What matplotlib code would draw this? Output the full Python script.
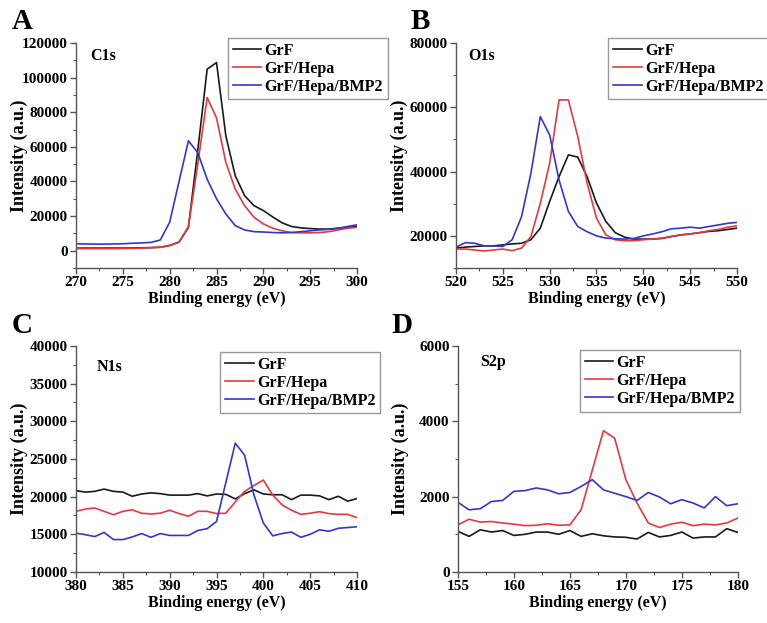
import matplotlib
matplotlib.use("Agg")
import matplotlib.pyplot as plt
from matplotlib.ticker import MultipleLocator
import numpy as np

plt.rcParams['font.family'] = ['Liberation Serif', 'DejaVu Serif']
plt.rcParams['font.weight'] = 'bold'

series_names = ["GrF", "GrF/Hepa", "GrF/Hepa/BMP2"]
colors = ["#1a1a1a", "#e8383d", "#3535d0"]

# Panel A: C1s
c1s_x = list(range(270, 301))
c1s_grf = [1500, 1500, 1500, 1500, 1500, 1500, 1600, 1700, 1800, 2000, 3000, 5000, 13500, 58000,
           104900, 108700, 66200, 43300, 31800, 26000, 23200, 19500, 16100, 14000, 13200, 12800,
           12500, 12500, 13000, 13500, 14000]
c1s_hepa = [1200, 1200, 1200, 1200, 1200, 1300, 1400, 1500, 1700, 2000, 3000, 5000, 14000, 50000,
            88500, 76700, 50900, 35600, 26000, 19300, 15500, 13000, 11500, 10500, 10300, 10300,
            10500, 11000, 12000, 13000, 13500]
c1s_bmp2 = [4000, 3900, 3800, 3800, 3900, 4000, 4300, 4500, 4800, 6200, 16500, 40000, 63500, 56600,
            41300, 30000, 21200, 14500, 12000, 11000, 10800, 10500, 10300, 10500, 11000, 11500,
            12000, 12300, 13000, 14000, 15000]

# Panel B: O1s
o1s_x = list(range(520, 551))
o1s_grf = [16200, 16500, 16700, 16900, 16900, 17200, 17500, 17700, 18800, 22400, 30700, 38400,
           45200, 44500, 38400, 30200, 24500, 21000, 19600, 19000, 19000, 19000, 19200, 19800,
           20300, 20600, 21000, 21400, 21600, 22000, 22400]
o1s_hepa = [15900, 15900, 15600, 15300, 15600, 15900, 15400, 16200, 19800, 30100, 42600, 62300,
            62300, 50900, 36400, 25500, 20300, 18800, 18500, 18500, 18800, 19000, 19300, 19800,
            20300, 20600, 21000, 21600, 22000, 22700, 23100]
o1s_bmp2 = [16500, 17900, 17700, 16900, 16900, 16700, 18800, 26000, 39500, 57100, 51400, 37400,
            27600, 22900, 21300, 20000, 19300, 19100, 19000, 19200, 20000, 20600, 21300, 22200,
            22400, 22700, 22400, 22900, 23400, 23900, 24200]

# Panel C: N1s
n1s_x = list(range(380, 411))
n1s_grf = [20800, 20600, 20700, 21000, 20700, 20600, 20050, 20350, 20500, 20400, 20200, 20200,
           20200, 20400, 20100, 20350, 20300, 19700, 20400, 20900, 20350, 20250, 20250, 19600,
           20200, 20200, 20100, 19600, 20050, 19400, 19750]
n1s_hepa = [18050, 18350, 18500, 18050, 17600, 18050, 18250, 17800, 17700, 17800, 18200, 17750,
            17400, 18050, 18050, 17750, 17800, 19300, 20700, 21500, 22200, 20200, 18900, 18200,
            17650, 17800, 18000, 17750, 17650, 17650, 17200]
n1s_bmp2 = [15150, 14950, 14700, 15250, 14300, 14300, 14650, 15100, 14600, 15100, 14850, 14850,
            14850, 15500, 15750, 16700, 21900, 27100, 25500, 20200, 16500, 14800, 15100, 15300,
            14600, 15000, 15600, 15400, 15800, 15900, 16000]

# Panel D: S2p
s2p_x = list(range(155, 181))
s2p_grf = [1080, 945, 1120, 1060, 1100, 970, 1000, 1060, 1060, 1000, 1100, 945, 1015, 960, 930,
           920, 875, 1050, 930, 970, 1060, 900, 930, 930, 1150, 1050]
s2p_hepa = [1250, 1400, 1325, 1340, 1300, 1270, 1230, 1240, 1280, 1240, 1250, 1650, 2700, 3750,
            3550, 2450, 1830, 1300, 1180, 1270, 1320, 1230, 1270, 1250, 1300, 1430]
s2p_bmp2 = [1850, 1650, 1680, 1870, 1900, 2140, 2160, 2230, 2180, 2075, 2110, 2270, 2450, 2180,
            2090, 2000, 1900, 2110, 1990, 1810, 1920, 1830, 1700, 2000, 1760, 1810]

fig = plt.figure(figsize=(7.67, 6.23), dpi=100)

panels = [
    dict(rect=[0.0991, 0.5698, 0.3664, 0.3612], x=c1s_x, ys=[c1s_grf, c1s_hepa, c1s_bmp2],
         xlim=(270, 300), ylim=(-10000, 120000), xmaj=5, ymaj=20000, ymin=10000,
         tag="C1s", tagpos=(0.05, 0.94), letter="A", letpos=(0.015, 0.965),
         legpos=(0.297, 0.939), ylx=-0.17),
    dict(rect=[0.5945, 0.5698, 0.3664, 0.3612], x=o1s_x, ys=[o1s_grf, o1s_hepa, o1s_bmp2],
         xlim=(520, 550), ylim=(10000, 80000), xmaj=5, ymaj=20000, ymin=10000,
         tag="O1s", tagpos=(0.045, 0.94), letter="B", letpos=(0.535, 0.965),
         legpos=(0.793, 0.939), ylx=-0.17),
    dict(rect=[0.0991, 0.0819, 0.3664, 0.3628], x=n1s_x, ys=[n1s_grf, n1s_hepa, n1s_bmp2],
         xlim=(380, 410), ylim=(10000, 40000), xmaj=5, ymaj=5000, ymin=2500,
         tag="N1s", tagpos=(0.075, 0.905), letter="C", letpos=(0.015, 0.478),
         legpos=(0.287, 0.435), ylx=-0.17),
    dict(rect=[0.597, 0.0819, 0.365, 0.3628], x=s2p_x, ys=[s2p_grf, s2p_hepa, s2p_bmp2],
         xlim=(155, 180), ylim=(0, 6000), xmaj=5, ymaj=2000, ymin=1000,
         tag="S2p", tagpos=(0.08, 0.93), letter="D", letpos=(0.51, 0.478),
         legpos=(0.756, 0.438), ylx=-0.175),
]

for p in panels:
    ax = fig.add_axes(p["rect"])
    handles = []
    for y, c, n in zip(p["ys"], colors, series_names):
        h, = ax.plot(p["x"], y, color=c, lw=1.2, label=n)
        handles.append(h)
    ax.set_xlim(*p["xlim"])
    ax.set_ylim(*p["ylim"])
    ax.spines['top'].set_visible(False)
    ax.spines['right'].set_visible(False)
    for s in ('left', 'bottom'):
        ax.spines[s].set_color('#555555')
        ax.spines[s].set_linewidth(1.0)
    ax.xaxis.set_major_locator(MultipleLocator(p["xmaj"]))
    ax.xaxis.set_minor_locator(MultipleLocator(p["xmaj"] / 2))
    ax.yaxis.set_major_locator(MultipleLocator(p["ymaj"]))
    ax.yaxis.set_minor_locator(MultipleLocator(p["ymin"]))
    ax.tick_params(which='major', direction='out', length=4, width=1, color='#555555',
                   labelsize=11, pad=2)
    ax.tick_params(which='minor', direction='out', length=2.5, width=0.8, color='#555555')
    for lab in ax.get_xticklabels() + ax.get_yticklabels():
        lab.set_fontweight('bold')
    ax.set_xlabel("Binding energy (eV)", fontsize=11.5, fontweight='bold', labelpad=1)
    ax.set_ylabel("Intensity (a.u.)", fontsize=13, fontweight='bold')
    ax.yaxis.set_label_coords(p["ylx"], 0.5)
    ax.text(p["tagpos"][0], p["tagpos"][1], p["tag"], transform=ax.transAxes,
            fontsize=11.5, fontweight='bold', va='center', ha='left')
    fig.text(p["letpos"][0], p["letpos"][1], p["letter"], fontsize=21, fontweight='bold',
             va='center', ha='left')
    leg = fig.legend(handles=handles, loc='upper left', bbox_to_anchor=p["legpos"],
                     bbox_transform=fig.transFigure, frameon=True, fancybox=False,
                     prop={'size': 11.5, 'weight': 'bold'}, handlelength=1.8,
                     handletextpad=0.2, labelspacing=0.12, borderpad=0.3, borderaxespad=0)
    leg.get_frame().set_edgecolor('#808080')
    leg.get_frame().set_linewidth(1.0)

fig.savefig("out.png", dpi=100)
